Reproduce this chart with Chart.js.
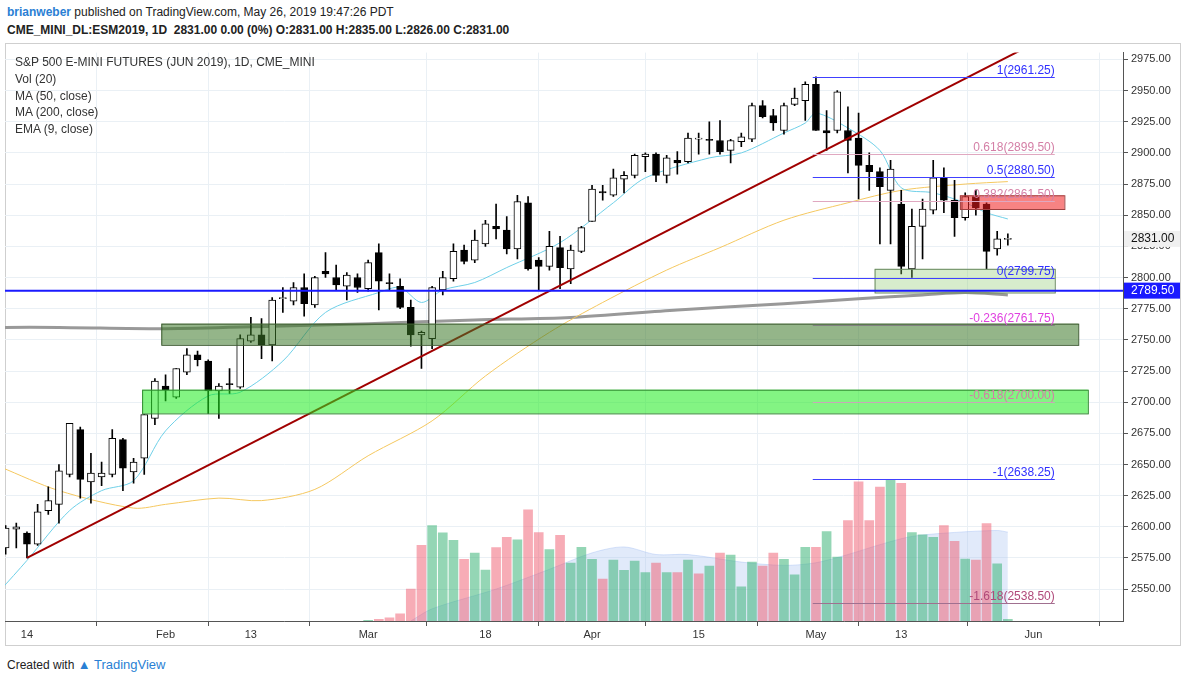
<!DOCTYPE html>
<html>
<head>
<meta charset="utf-8">
<script src="https://cdn.jsdelivr.net/npm/chart.js@4.4.1/dist/chart.umd.min.js"></script>
<style>
  body { margin: 0; width: 1187px; height: 683px; background: #fff; font-family: "Liberation Sans", Arial, sans-serif; position: relative; overflow: hidden; }
  .hdr1 { position: absolute; left: 7px; top: 5px; font-size: 12px; color: #222; }
  .hdr1 b { color: #2a7fd4; }
  .hdr2 { position: absolute; left: 7px; top: 23px; font-size: 12px; color: #222; font-weight: bold; }
  #frame { position: absolute; left: 5px; top: 43px; width: 1176px; height: 603px; border: 1px solid #cfcfcf; box-sizing: border-box; }
  #wrap { position: absolute; left: 5px; top: 43px; width: 1176px; height: 603px; }
  .legend { position: absolute; left: 15px; top: 54px; font-size: 12px; color: #333; line-height: 16.8px; }
  .foot { position: absolute; left: 7px; top: 657px; font-size: 12px; color: #222; }
  .foot span { color: #2a7fd4; font-size: 13px; }
</style>
</head>
<body>
<div class="hdr1"><b>brianweber</b> published on TradingView.com, May 26, 2019 19:47:26 PDT</div>
<div class="hdr2">CME_MINI_DL:ESM2019, 1D&nbsp; 2831.00 0.00 (0%) O:2831.00 H:2835.00 L:2826.00 C:2831.00</div>
<div id="frame"></div>
<div id="wrap"><canvas id="c" width="1176" height="603"></canvas></div>
<div class="legend">S&amp;P 500 E-MINI FUTURES (JUN 2019), 1D, CME_MINI<br>Vol (20)<br>MA (50, close)<br>MA (200, close)<br>EMA (9, close)</div>
<div class="foot">Created with <span>&#9650; TradingView</span></div>
<script>
// trading days from Jan 10 2019 (index 0)
const tickPos    = [2, 15, 23, 34, 45, 55, 65, 76, 84, 96.4];
const tickLabels = ['14', 'Feb', '13', 'Mar', '18', 'Apr', '15', 'May', '13', 'Jun'];
const priceTicks = [2550,2575,2600,2625,2650,2675,2700,2725,2750,2775,2800,2825,2850,2875,2900,2925,2950,2975];

const opens  = [2583,2598,2595,2586,2613,2618,2642,2678,2636,2640,2642,2670,2644,2655,2687,2713,2704,2724,2738,2733,2709,2715,2712,2749,2754,2746,2783,2781,2792,2778,2805,2800,2793,2800,2791,2820,2796,2793,2776,2754,2751,2790,2799,2822,2814,2827,2841,2838,2823,2860,2814,2809,2824,2807,2821,2845,2869,2866,2879,2882,2897,2899,2882,2894,2893,2911,2911,2910,2902,2909,2911,2938,2930,2918,2939,2942,2955,2918,2918,2918,2912,2890,2885,2870,2859,2807,2841,2854,2880,2862,2848,2865,2859,2823,2831];
const highs  = [2601,2603,2596,2618,2632,2650,2683,2680,2659,2652,2678,2671,2655,2690,2719,2722,2727,2743,2741,2734,2715,2727,2754,2768,2767,2784,2792,2796,2803,2801,2820,2810,2804,2803,2814,2827,2803,2799,2782,2757,2793,2805,2827,2826,2838,2846,2859,2849,2866,2865,2816,2837,2833,2826,2841,2874,2874,2887,2885,2899,2900,2900,2898,2901,2916,2916,2925,2926,2911,2916,2940,2942,2935,2940,2952,2957,2961,2934,2950,2937,2932,2900,2888,2894,2870,2855,2863,2894,2888,2878,2868,2870,2860,2837,2835];
const lows   = [2578,2583,2575,2585,2610,2603,2640,2623,2619,2633,2640,2629,2635,2642,2682,2701,2703,2722,2729,2691,2687,2707,2711,2748,2735,2733,2772,2778,2769,2776,2800,2790,2782,2788,2789,2774,2790,2775,2745,2727,2743,2786,2797,2811,2812,2825,2831,2819,2815,2806,2790,2806,2791,2795,2820,2845,2862,2865,2868,2880,2885,2877,2876,2883,2892,2899,2899,2899,2892,2905,2909,2928,2918,2915,2938,2926,2918,2902,2916,2884,2863,2870,2827,2827,2803,2800,2815,2851,2852,2833,2846,2850,2807,2818,2826];
const closes = [2599,2600,2586,2612,2621,2645,2683,2638,2643,2643,2671,2647,2652,2690,2717,2710,2727,2738,2734,2709,2713,2714,2751,2754,2746,2782,2784,2792,2779,2800,2803,2794,2802,2792,2812,2797,2795,2776,2754,2756,2792,2800,2821,2813,2830,2843,2839,2823,2861,2807,2809,2825,2808,2822,2840,2871,2868,2880,2882,2898,2899,2882,2896,2892,2912,2912,2910,2901,2910,2913,2938,2929,2924,2938,2944,2955,2918,2916,2949,2910,2890,2885,2873,2887,2809,2841,2855,2880,2862,2848,2865,2856,2821,2831,2831];

// volume (thousands), from index 34 (Mar 1); earlier contracts near zero
const volStart = 34;
const volumes = [2,5,10,22,97,230,290,268,245,187,206,155,223,254,247,338,269,217,260,176,224,187,127,185,154,182,147,176,147,147,185,143,167,206,200,104,179,167,206,187,140,224,224,272,194,305,423,305,407,428,418,269,262,254,290,242,188,185,296,174,5];
const volUp   = [1,0,0,0,0,0,1,1,1,0,1,1,0,0,1,0,0,1,0,1,1,1,0,1,1,1,1,0,1,0,1,0,1,0,1,1,1,0,0,1,1,1,0,1,1,0,0,0,0,1,0,1,1,1,0,0,1,0,0,1,1];
const volMaIdx = [38,40,46,51,55,58,61,64,69,73,76,79,82,85,89,93,94];
const volMaVal = [0,37,97,157,207,225,202,202,179,169,177,202,232,257,269,275,270];

// moving averages (bar index, price)
const ma50Idx  = [-0.5,5,12,15,20,24,29,34,40,45,51,56,62,67,73,79,84,90,94];
const ma50Val  = [2648,2629,2615,2618,2623,2621,2630,2657,2685,2721,2756,2780,2806,2824,2846,2860,2870,2875,2877];
const ma200Idx = [-0.5,5,15,25,34,44,53,63,73,80,86,90,94];
const ma200Val = [2760,2760,2759,2761,2763,2766,2768,2774,2779,2783,2786,2788,2786];
const emaIdx   = [-0.5,2,6,9,12,15,19,22,26,30,35,37,39,41,44,47,52,57,60,66,69,73,75,76,79,82,84,87,90,92,94];
const emaVal   = [2549,2573,2613,2629,2637,2677,2705,2708,2733,2772,2788,2792,2780,2790,2796,2808,2828,2860,2880,2896,2900,2916,2924,2932,2920,2902,2872,2868,2860,2852,2847];

// drawings
const trendFrom = [2, 2575], trendTo = [99, 2999];
const fibLevels = ['1','0.618','0.5','0.382','0','-0.236','-0.618','-1','-1.618'];
const fibPrices = [2961.25,2899.50,2880.50,2861.50,2799.75,2761.75,2700.00,2638.25,2538.50];
const fibText   = ['#3030ff','#d47fa6','#3030ff','#d47fa6','#3030ff','#e040e0','#d47fa6','#3030ff','#b04a7a'];
const fibLine   = ['#4040ff','#e0a8c0','#4040ff','#e0a8c0','#4040ff','#808080','#c8a8b8','#4040ff','#a07090'];
const fibFrom = 75.7, fibTo = 98.4;
const boxes = [
  { x0: 14.6, x1: 100.6, y0: 2746, y1: 2763, fill: 'rgba(60,120,40,0.55)', line: '#3c5a30' },
  { x0: 12.8, x1: 101.5, y0: 2691, y1: 2710, fill: 'rgba(30,235,30,0.55)', line: '#2f8a2f' },
  { x0: 81.5, x1: 98.4,  y0: 2788, y1: 2807, fill: 'rgba(140,200,110,0.35)', line: '#6a8a60' },
  { x0: 89.5, x1: 99.3,  y0: 2855, y1: 2866, fill: 'rgba(240,30,30,0.55)', line: '#a04040' },
];
const hLinePrice = 2789.50, lastPrice = 2831.00;

const pts = (xs, ys) => xs.map((x, i) => ({ x, y: ys[i] }));
const wicks  = opens.map((o, i) => ({ x: i, y: [lows[i], highs[i]] }));
const bodies = opens.map((o, i) => {
  let lo = Math.min(o, closes[i]), hi = Math.max(o, closes[i]);
  if (hi - lo < 1) { lo -= 0.5; hi += 0.5; }
  return { x: i, y: [lo, hi] };
});
const bodyCol = opens.map((o, i) => closes[i] >= o ? '#ffffff' : '#000000');
const volData = volumes.map((v, i) => ({ x: volStart + i, y: v }));
const volCol  = volUp.map(u => u ? 'rgba(60,180,120,0.55)' : 'rgba(240,90,110,0.5)');

const overlay = {
  id: 'overlay',
  afterDatasetsDraw(chart) {
    const { ctx, chartArea: a, scales: { x, y } } = chart;
    ctx.save();
    ctx.beginPath(); ctx.rect(a.left, a.top, a.right - a.left, a.bottom - a.top); ctx.clip();
    boxes.forEach(b => {
      const l = x.getPixelForValue(b.x0), r = x.getPixelForValue(b.x1);
      const t = y.getPixelForValue(b.y1), btm = y.getPixelForValue(b.y0);
      ctx.fillStyle = b.fill; ctx.fillRect(l, t, r - l, btm - t);
      ctx.strokeStyle = b.line; ctx.lineWidth = 1; ctx.strokeRect(l + 0.5, t + 0.5, r - l, btm - t);
    });
    // fib
    const fl = x.getPixelForValue(fibFrom), fr = x.getPixelForValue(fibTo);
    ctx.font = '12px "Liberation Sans", Arial'; ctx.textAlign = 'right'; ctx.textBaseline = 'bottom';
    fibPrices.forEach((p, i) => {
      const py = Math.round(y.getPixelForValue(p)) + 0.5;
      ctx.strokeStyle = fibLine[i]; ctx.lineWidth = 1;
      ctx.beginPath(); ctx.moveTo(fl, py); ctx.lineTo(fr, py); ctx.stroke();
      ctx.fillStyle = fibText[i];
      ctx.fillText(fibLevels[i] + '(' + p.toFixed(2) + ')', fr, py - 1);
    });
    // horizontal line
    const hy = y.getPixelForValue(hLinePrice);
    ctx.strokeStyle = '#1a1aff'; ctx.lineWidth = 2;
    ctx.beginPath(); ctx.moveTo(a.left, hy); ctx.lineTo(a.right, hy); ctx.stroke();
    ctx.restore();
  },
  afterDraw(chart) {
    const { ctx, chartArea: a, scales: { y } } = chart;
    ctx.save();
    ctx.font = '12px "Liberation Sans", Arial'; ctx.textBaseline = 'middle'; ctx.textAlign = 'left';
    let py = y.getPixelForValue(lastPrice);
    ctx.fillStyle = '#f0f0f0'; ctx.fillRect(a.right + 1, py - 8, 56, 16);
    ctx.fillStyle = '#111'; ctx.fillText(lastPrice.toFixed(2), a.right + 8, py);
    py = y.getPixelForValue(hLinePrice);
    ctx.fillStyle = '#1a1aff'; ctx.fillRect(a.right + 1, py - 8, 56, 16);
    ctx.fillStyle = '#fff'; ctx.fillText(hLinePrice.toFixed(2), a.right + 8, py);
    ctx.restore();
  }
};

new Chart(document.getElementById('c'), {
  data: {
    datasets: [
      { type: 'line', data: pts(volMaIdx, volMaVal), yAxisID: 'vol', borderColor: 'rgba(150,180,240,0.35)', backgroundColor: 'rgba(170,195,240,0.35)', fill: 'origin', pointRadius: 0, borderWidth: 1, tension: 0.3, order: 10 },
      { type: 'bar', data: volData, yAxisID: 'vol', backgroundColor: volCol, barThickness: 9, order: 9 },
      { type: 'line', data: pts(ma200Idx, ma200Val), borderColor: '#999999', borderWidth: 3, pointRadius: 0, tension: 0.3, order: 8 },
      { type: 'line', data: pts(ma50Idx, ma50Val), borderColor: '#f5c860', borderWidth: 1, pointRadius: 0, tension: 0.3, order: 7 },
      { type: 'line', data: pts(emaIdx, emaVal), borderColor: '#6fd0e8', borderWidth: 1, pointRadius: 0, tension: 0.3, order: 6 },
      { type: 'bar', data: wicks, backgroundColor: '#000', barThickness: 1, order: 4 },
      { type: 'bar', data: bodies, backgroundColor: bodyCol, borderColor: '#000', borderWidth: 1, borderSkipped: false, barThickness: 7, order: 3 },
      { type: 'line', data: [{ x: trendFrom[0], y: trendFrom[1] }, { x: trendTo[0], y: trendTo[1] }], borderColor: '#a00000', borderWidth: 2, pointRadius: 0, order: 1 },
    ]
  },
  options: {
    animation: false, responsive: false, events: [],
    layout: { padding: 0 },
    datasets: { bar: { grouped: false } },
    plugins: { legend: { display: false }, tooltip: { enabled: false } },
    scales: {
      x: {
        type: 'linear', min: -0.06, max: 104.8, offset: false,
        afterBuildTicks: s => { s.ticks = tickPos.map(v => ({ value: v })); },
        afterFit: s => { s.height = 25; },
        ticks: { callback: (v, i) => tickLabels[i], color: '#333', font: { size: 11, family: '"Liberation Sans", Arial' }, maxRotation: 0, autoSkip: false, padding: 2 },
        grid: { color: '#eaf0f5', tickLength: 5, tickColor: '#555' },
        border: { color: '#555' }
      },
      y: {
        position: 'right', min: 2524.4, max: 2980.5,
        afterBuildTicks: s => { s.ticks = priceTicks.map(v => ({ value: v })); },
        afterFit: s => { s.width = 58; },
        ticks: { callback: v => v.toFixed(2), color: '#333', font: { size: 11, family: '"Liberation Sans", Arial' }, padding: 3 },
        grid: { color: '#eaf0f5', tickLength: 5, tickColor: '#555' },
        border: { color: '#555' }
      },
      vol: { display: false, min: 0, max: 1727 }
    }
  },
  plugins: [overlay]
});
</script>
</body>
</html>
